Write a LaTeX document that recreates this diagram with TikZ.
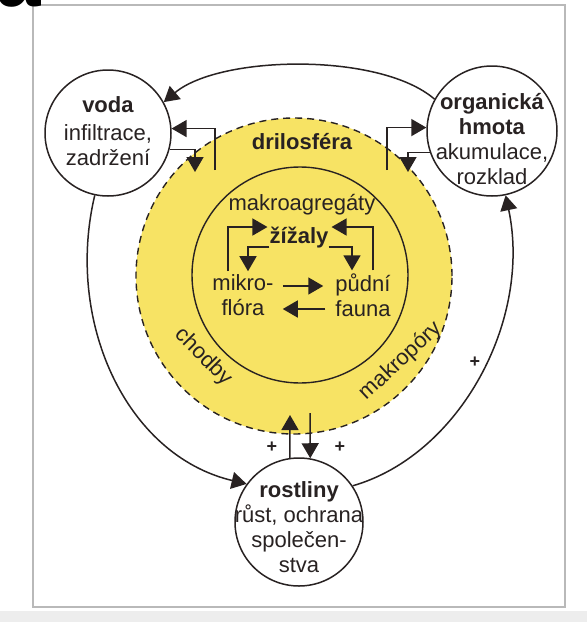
\documentclass[tikz,border=0pt]{standalone}
\usepackage{fontspec}
\setmainfont{Liberation Sans}
\usetikzlibrary{shapes,arrows,arrows.meta}

\definecolor{ink}{RGB}{40,34,34}
\definecolor{drilyellow}{RGB}{247,227,100}
\definecolor{framegray}{RGB}{185,185,185}

\begin{document}
\begin{tikzpicture}[x=1pt, y=-1pt, text=ink, font=\fontsize{22}{25}\selectfont]

    % Define block styles
    \tikzstyle{blob} = [circle, draw=ink, line width=1.5pt, fill=white, inner sep=0pt]
    \tikzstyle{txt} = [align=center, inner sep=0pt]
    \tikzstyle{tag} = [inner sep=0pt]
    \tikzstyle{bold} = [inner sep=0pt, font=\bfseries\fontsize{22}{25}\selectfont]
    \tikzstyle{plus} = [inner sep=0pt, font=\bfseries\fontsize{18}{18}\selectfont]
    \tikzstyle{line} = [draw=ink, line width=1.5pt, -{Triangle[length=15pt, width=17pt]}]

    % Frame
    \useasboundingbox (0,0) rectangle (587,622);
    \fill[gray!14] (0,611) rectangle (587,622);
    \draw[framegray, line width=1.6pt] (33,5) rectangle (565,607);
    \node[anchor=base west, inner sep=0pt, text=black,
        font=\bfseries\fontsize{80}{80}\selectfont] (panel) at (-4,6) {a};

    % Drilosphere
    \node [circle, draw=ink, fill=drilyellow, line width=1.4pt,
        dash pattern=on 7pt off 5pt, minimum size=316pt] (dril) at (294,276) {};
    \node [circle, draw=ink, line width=1.4pt, minimum size=216pt] (inner) at (300,275) {};

    % Place nodes
    \node [blob, minimum size=126pt] (voda) at (108,133) {};
    \node [blob, minimum size=130pt] (org) at (492,131) {};
    \node [blob, minimum size=128pt] (rost) at (299,522) {};
    \node [txt] (vodatext) at (108,131) {\textbf{voda}\\[3pt]infiltrace,\\zadržení};
    \node [txt] (orgtext) at (492,139)
        {\textbf{organická}\\\textbf{hmota}\\akumulace,\\rozklad};
    \node [txt] (rosttext) at (299,527)
        {\textbf{rostliny}\\růst, ochrana\\společen-\\stva};

    \node [bold] (drilo) at (302,142) {drilosféra};
    \node [tag] (makro) at (302,205) {makroagregáty};
    \node [bold] (zizaly) at (299,238) {žížaly};
    \node [txt, inner sep=3pt] (mikro) at (243,295) {mikro-\\flóra};
    \node [txt, inner sep=3pt] (pudni) at (363,295) {půdní\\fauna};
    \node [tag, rotate=-45] (chodby) at (203,357) {chodby};
    \node [tag, rotate=43] (makropory) at (401,361) {makropóry};

    \node [plus] (plusl) at (272,447) {+};
    \node [plus] (plusr) at (340,447) {+};
    \node [plus] (plusa) at (475,362) {+};

    \coordinate (vodain) at (215,170);
    \coordinate (vodaout) at (195,172);
    \coordinate (orgin) at (387,170);
    \coordinate (orgout) at (408,172);
    \coordinate (rostin) at (310,413);
    \coordinate (rostout) at (290,415);

    % Draw edges
    \path [line] (org.151) .. controls (380,52) and (220,55) .. (voda.29);
    \path [line] (voda.258) .. controls (65,320) and (125,455) .. (rost.144);
    \path [line] (rost.34) .. controls (460,455) and (532,320) .. (org.-78);

    \path [line] (vodain) |- (voda.4);
    \path [line] (voda.-15) -| (vodaout);
    \path [line] (orgin) |- (org.177);
    \path [line] (org.199) -| (orgout);
    \path [line] (rost.98) -- (rostout);
    \path [line] (rostin) -- (rost.80);

    \path [line] ([xshift=-15pt]mikro.north) |- ([xshift=-2pt, yshift=11pt]zizaly.west);
    \path [line] ([yshift=-9pt]zizaly.west) -| ([xshift=5pt]mikro.north);
    \path [line] ([xshift=10pt]pudni.north) |- ([xshift=3pt, yshift=11pt]zizaly.east);
    \path [line] ([yshift=-9pt]zizaly.east) -| ([xshift=-11pt]pudni.north);
    \path [line, shorten <=6pt, shorten >=9pt] ([yshift=9pt]mikro.east) -- ([yshift=9pt]pudni.west);
    \path [line, shorten <=7pt, shorten >=6pt] ([yshift=-14pt]pudni.west) -- ([yshift=-14pt]mikro.east);

\end{tikzpicture}
\end{document}
